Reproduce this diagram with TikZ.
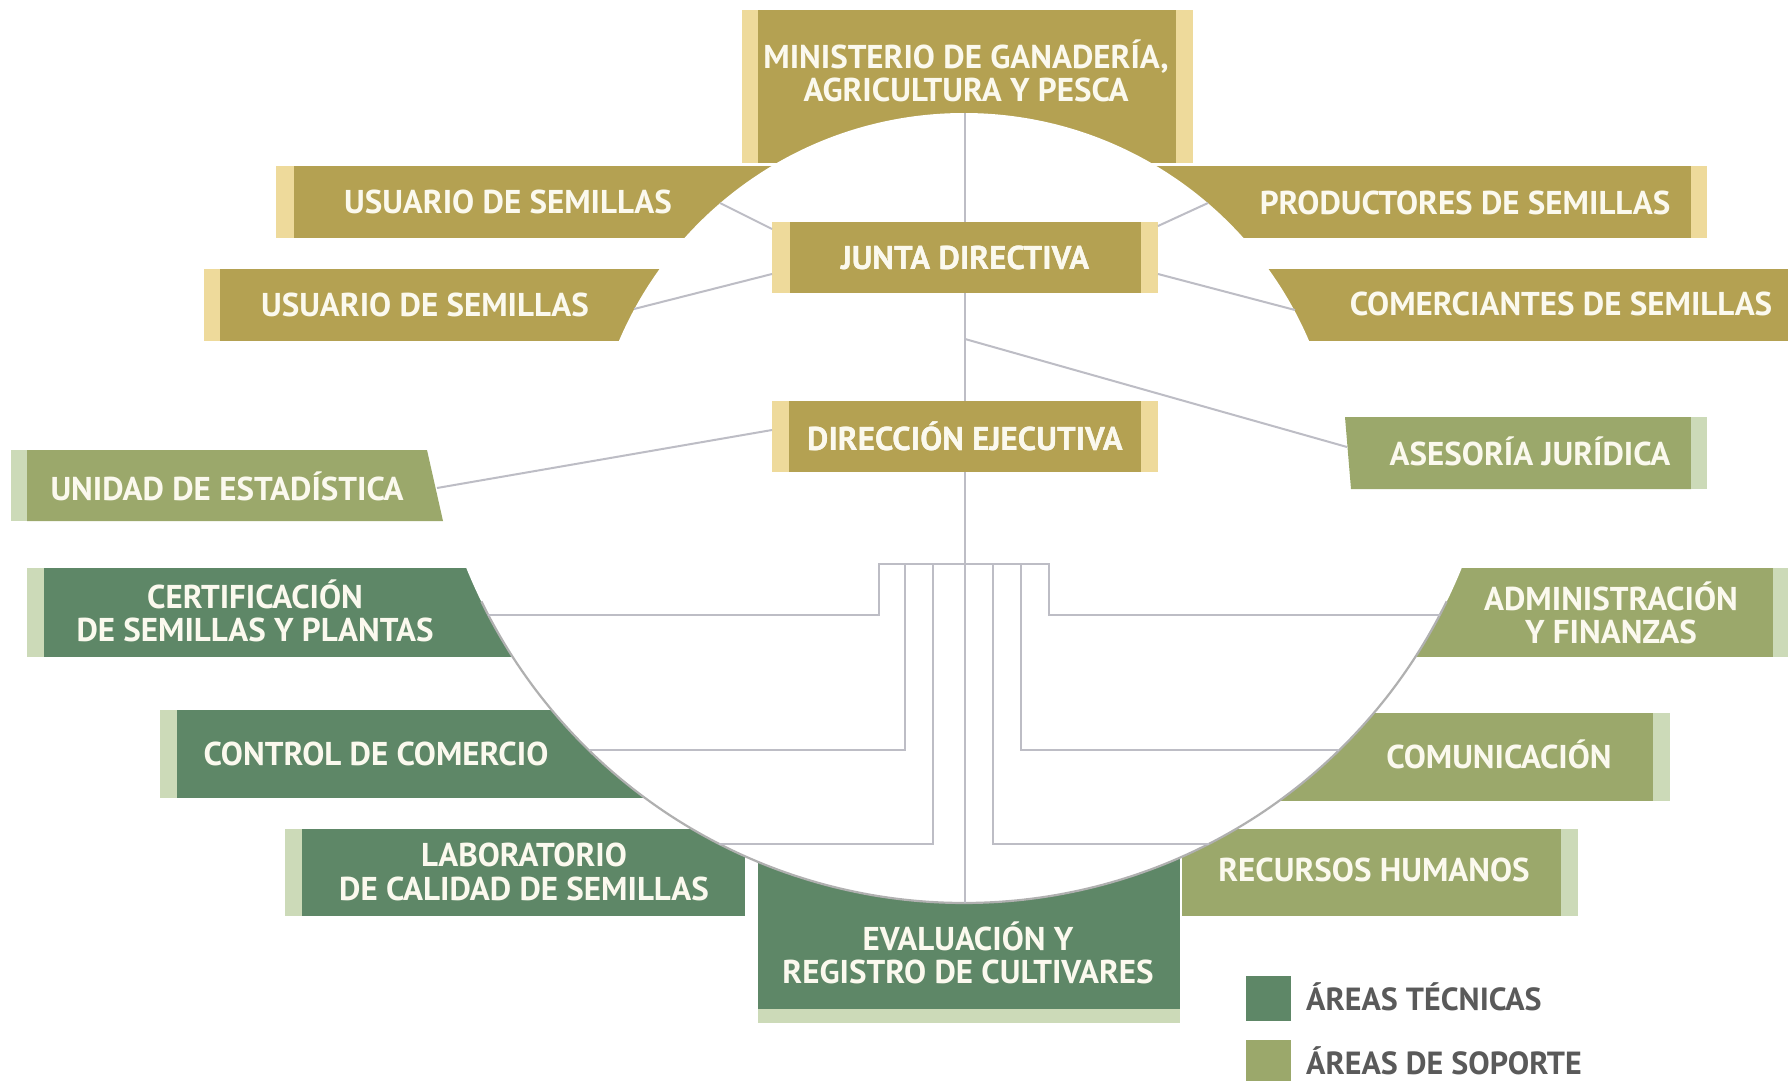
\documentclass[tikz,border=0pt]{standalone}
\usepackage{fontspec}
\setmainfont{PT Sans}
\usetikzlibrary{calc}
\definecolor{gold}{HTML}{B4A152}
\definecolor{goldlt}{HTML}{EEDA9B}
\definecolor{tech}{HTML}{5E8767}
\definecolor{supp}{HTML}{9BA86B}
\definecolor{greenlt}{HTML}{CCDAB8}
\definecolor{conn}{HTML}{BDBDC5}
\definecolor{rim}{HTML}{B0B0B0}
\definecolor{boxtxt}{HTML}{FBF9EE}
\definecolor{legtxt}{HTML}{5A5A5A}
\begin{document}
\begin{tikzpicture}[x=1pt,y=-1pt,
  lbl/.style={text=boxtxt, font=\fontsize{33}{33.5}\selectfont\bfseries, align=center, inner sep=0pt},
  legtext/.style={text=legtxt, font=\fontsize{32}{34}\selectfont\bfseries, inner sep=0pt, anchor=west},
  link/.style={draw=conn, line width=2pt},
  innerbox/.style={fill=gold, minimum width=386pt, minimum height=71pt, inner sep=0pt, lbl},
  legsq/.style={minimum width=45pt, minimum height=45pt, inner sep=0pt}]
\fill[white] (0,0) rectangle (1788,1081);
\useasboundingbox (0,0) rectangle (1788,1081);

% ---------- upper boxes (cut by the small circle) ----------
\fill[goldlt] (742,10) rectangle (1193,163);
\fill[gold] (758,10) rectangle (1176,163);
\fill[goldlt] (276,166) rectangle (294,238);
\fill[gold] (294,166) rectangle (820,238);
\fill[goldlt] (204,269) rectangle (220,341);
\fill[gold] (220,269) rectangle (720,341);
\fill[gold] (1120,166) rectangle (1691,238);
\fill[goldlt] (1691,166) rectangle (1707,238);
\fill[gold] (1220,269) rectangle (1788,341);
\fill[supp] (1345,417) -- (1691,417) -- (1691,489) -- (1351,489) -- cycle;
\fill[greenlt] (1691,417) rectangle (1707,489);
\fill[greenlt] (11,450) rectangle (27,521);
\fill[supp] (27,450) -- (427,450) -- (443,521) -- (27,521) -- cycle;
\fill[white] (964,488) circle[radius=375pt];

% ---------- lower boxes (cut by the large circle) ----------
\fill[greenlt] (27,568) rectangle (44,657);
\fill[tech] (44,568) rectangle (720,657);
\fill[greenlt] (160,710) rectangle (177,798);
\fill[tech] (177,710) rectangle (820,798);
\fill[greenlt] (285,829) rectangle (302,916);
\fill[tech] (302,829) rectangle (745,916);
\fill[tech] (758,829) rectangle (1180,1009);
\fill[greenlt] (758,1009) rectangle (1180,1023);
\fill[supp] (1250,568) rectangle (1773,657);
\fill[greenlt] (1773,568) rectangle (1788,657);
\fill[supp] (1150,713) rectangle (1653,801);
\fill[greenlt] (1653,713) rectangle (1670,801);
\fill[supp] (1182,829) rectangle (1561,916);
\fill[greenlt] (1561,829) rectangle (1578,916);
\begin{scope}
  \clip (0,540) rectangle (1788,1081);
  \fill[white] (964,366) circle[radius=537pt];
\end{scope}
\draw[rim, line width=2.2pt] plot[domain=26:154, samples=150] ({964+537*cos(\x)},{366+537*sin(\x)});

% ---------- inner boxes ----------
\node[innerbox] (junta) at (965,257.5) {JUNTA DIRECTIVA};
\fill[goldlt] (junta.south west) rectangle ($(junta.north west)+(18,0)$);
\fill[goldlt] (junta.south east) rectangle ($(junta.north east)+(-17,0)$);
\node[innerbox] (dir) at (965,436.5) {DIRECCIÓN EJECUTIVA};
\fill[goldlt] (dir.south west) rectangle ($(dir.north west)+(17,0)$);
\fill[goldlt] (dir.south east) rectangle ($(dir.north east)+(-17,0)$);
\node[lbl] at (junta) {JUNTA DIRECTIVA};
\node[lbl] at (dir) {DIRECCIÓN EJECUTIVA};

% ---------- text of the other boxes ----------
\node[lbl] (min) at (966,71) {MINISTERIO DE GANADERÍA,\\AGRICULTURA Y PESCA};
\node[lbl] (us1) at (508,202) {USUARIO DE SEMILLAS};
\node[lbl] (us2) at (425,305) {USUARIO DE SEMILLAS};
\node[lbl] (prod) at (1465,203) {PRODUCTORES DE SEMILLAS};
\node[lbl] (com) at (1561,304) {COMERCIANTES DE SEMILLAS};
\node[lbl] (ase) at (1530,451) {ASESORÍA JURÍDICA};
\node[lbl] (uni) at (227,486) {UNIDAD DE ESTADÍSTICA};
\node[lbl] (cert) at (255,611) {CERTIFICACIÓN\\DE SEMILLAS Y PLANTAS};
\node[lbl] (ctrl) at (376,754) {CONTROL DE COMERCIO};
\node[lbl] (lab) at (524,872) {LABORATORIO\\DE CALIDAD DE SEMILLAS};
\node[lbl] (eval) at (968,953) {EVALUACIÓN Y\\REGISTRO DE CULTIVARES};
\node[lbl] (adm) at (1611,613) {ADMINISTRACIÓN\\Y FINANZAS};
\node[lbl] (comu) at (1499,754) {COMUNICACIÓN};
\node[lbl] (rrhh) at (1374,870) {RECURSOS HUMANOS};

% ---------- connector end points ----------
\coordinate (mtop) at (965,113);
\coordinate (bot) at (965,903);
\coordinate (jL1) at (772,229);
\coordinate (jL2) at (772,274);
\coordinate (jR1) at (1158,226);
\coordinate (jR2) at (1158,274);
\coordinate (us1E) at (720,203);
\coordinate (us2E) at (634,309);
\coordinate (prE) at (1208,203);
\coordinate (coE) at (1295,310);
\coordinate (asJ) at (965,339);
\coordinate (asE) at (1347,447);
\coordinate (dL) at (772,430);
\coordinate (uniE) at (437,488);
\coordinate (certE) at (488,615);
\coordinate (ctrlE) at (589,750);
\coordinate (labE) at (719,844);
\coordinate (admE) at (1440,615);
\coordinate (comE) at (1339,750);
\coordinate (recE) at (1209,844);

% ---------- connectors ----------
\draw[link] (mtop) -- (junta.north);
\draw[link] (junta.south) -- (dir.north);
\draw[link] (dir.south) -- (bot);
\draw[link] (jL1) -- (us1E);
\draw[link] (jL2) -- (us2E);
\draw[link] (jR1) -- (prE);
\draw[link] (jR2) -- (coE);
\draw[link] (asJ) -- (asE);
\draw[link] (dL) -- (uniE);
\draw[link] (certE) -- (879,615) -- (879,564) -- (1049,564) -- (1049,615) -- (admE);
\draw[link] (ctrlE) -- (905,750) -- (905,564);
\draw[link] (labE) -- (933,844) -- (933,564);
\draw[link] (comE) -- (1021,750) -- (1021,564);
\draw[link] (recE) -- (993,844) -- (993,564);

% ---------- legend ----------
\node[legsq, fill=tech] (lg1) at (1268.5,998.5) {};
\node[legsq, fill=supp] (lg2) at (1268.5,1062.5) {};
\node[legtext] (lt1) at (1306,997) {ÁREAS TÉCNICAS};
\node[legtext] (lt2) at (1306,1061) {ÁREAS DE SOPORTE};
\end{tikzpicture}
\end{document}
